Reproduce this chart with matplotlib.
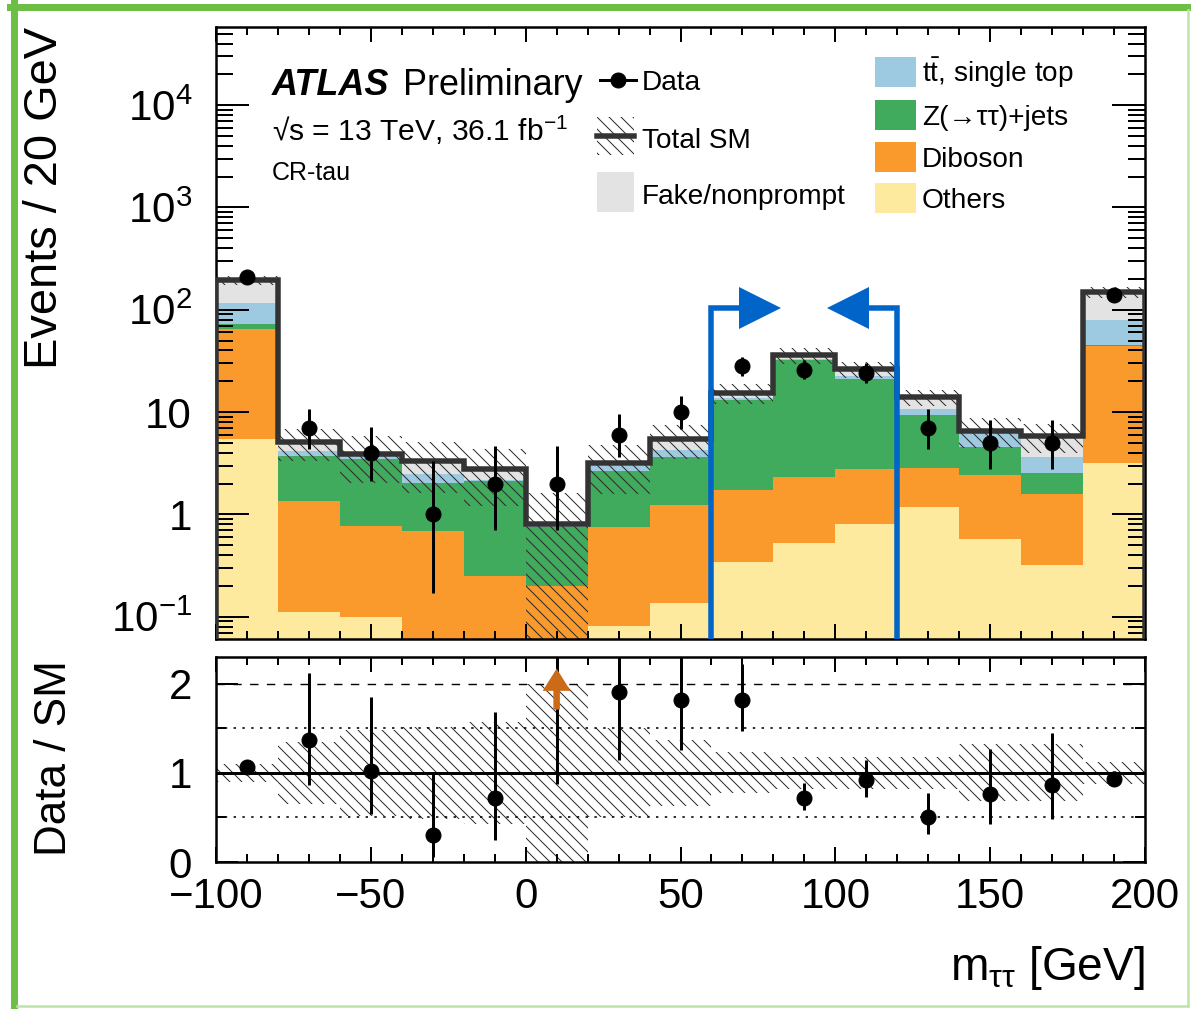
import matplotlib
matplotlib.use("Agg")
import matplotlib.pyplot as plt
import numpy as np
from matplotlib.patches import Rectangle
from matplotlib.lines import Line2D
from matplotlib.ticker import LogLocator, FixedLocator, MultipleLocator, FuncFormatter, NullFormatter

plt.rcParams['font.family'] = ['Liberation Sans', 'DejaVu Sans']
plt.rcParams['mathtext.fontset'] = 'custom'
plt.rcParams['mathtext.rm'] = 'Liberation Sans'
plt.rcParams['mathtext.it'] = 'Liberation Sans:italic'
plt.rcParams['mathtext.bf'] = 'Liberation Sans:bold'
plt.rcParams['hatch.linewidth'] = 1.0

# --- data (events per 20 GeV bin) ---
bin_edges = [-100, -80, -60, -40, -20, 0, 20, 40, 60, 80, 100, 120, 140, 160, 180, 200]
others  = [5.5, 0.11, 0.10, 0.03, 0.03, 0.03, 0.081, 0.135, 0.345, 0.52, 0.80, 1.19, 0.57, 0.32, 3.15]
diboson = [59.5, 1.23, 0.67, 0.66, 0.22, 0.17, 0.67, 1.10, 1.39, 1.81, 1.97, 1.67, 1.85, 1.26, 41.2]
ztautau = [8.0, 2.34, 2.67, 1.35, 1.85, 0.56, 1.88, 2.37, 11.3, 29.7, 18.4, 6.44, 2.16, 0.93, 1.3]
ttbar   = [44.0, 0.52, 0.24, 0.42, 0.05, 0.01, 0.37, 0.64, 0.8, 1.0, 1.3, 1.3, 1.72, 1.14, 33.1]
fake    = [78.0, 0.9, 0.22, 0.89, 0.65, 0.03, 0.15, 1.26, 1.6, 3.0, 3.7, 3.4, 0.3, 2.15, 69.3]
sm_rel_unc = [0.10, 0.35, 0.48, 0.52, 0.57, 1.0, 0.50, 0.37, 0.23, 0.18, 0.18, 0.18, 0.32, 0.32, 0.12]

data        = [208, 7, 4, 1, 2, 2, 6, 10, 28, 26, 24, 7, 5, 5, 138]
data_err_lo = [14.4, 2.6, 1.9, 0.83, 1.3, 1.3, 2.4, 3.1, 5.3, 5.1, 4.9, 2.6, 2.2, 2.2, 11.7]
data_err_hi = [15.4, 3.8, 3.2, 2.3, 2.7, 2.7, 3.6, 4.3, 6.3, 6.1, 5.9, 3.8, 3.4, 3.4, 12.8]

sr_lo, sr_hi, sr_arrow_y = 60, 120, 105   # signal region window

colors = ['#feea9e', '#fa992c', '#41ab5d', '#9ecae1', '#e3e3e3']   # others, diboson, Z, top, fake
line_col = '#333333'
sr_col = '#0064c8'
hatch = '\\\\'
hatch_col = '#2a2a2a'

edges = np.array(bin_edges, dtype=float)
centers = 0.5 * (edges[:-1] + edges[1:])
components = [np.array(v) for v in (others, diboson, ztautau, ttbar, fake)]
total = np.sum(components, axis=0)
rel = np.array(sm_rel_unc)
data = np.array(data, dtype=float)
elo = np.array(data_err_lo)
ehi = np.array(data_err_hi)

# --- figure (dpi 72 so 1 pt = 1 px) ---
W, H = 1191, 1009
fig = plt.figure(figsize=(W / 72, H / 72), dpi=72)
AX_L, AX_R = 216, 1145
ax = fig.add_axes([AX_L / W, 1 - 639 / H, (AX_R - AX_L) / W, (639 - 27) / H])
ax2 = fig.add_axes([AX_L / W, 1 - 862 / H, (AX_R - AX_L) / W, (862 - 657) / H], sharex=ax)

ax.set_yscale('log')
ymin, ymax = 0.0605, 5.8e4
ax.set_ylim(ymin, ymax)
ax.set_xlim(edges[0], edges[-1])

# stacked backgrounds
base = np.full(len(centers), 1e-4)
cum = np.zeros(len(centers))
for vals, col in zip(components, colors):
    cum = cum + vals
    ax.stairs(cum, edges, baseline=base, fill=True, color=col, lw=0, zorder=1)
    base = cum.copy()

# uncertainty band + total
ax.stairs(total * (1 + rel), edges, baseline=np.maximum(total * (1 - rel), 1e-4), fill=True,
          facecolor='none', edgecolor=hatch_col, lw=0, hatch=hatch, zorder=2)
ax.stairs(total, edges, baseline=1e-4, color=line_col, lw=5.5, zorder=3)

# signal-region markers
ax.plot([sr_lo, sr_lo, sr_lo + 9.5], [ymin * 0.5, sr_arrow_y, sr_arrow_y], color=sr_col, lw=5.5,
        solid_joinstyle='miter', zorder=4)
ax.plot([sr_hi, sr_hi, sr_hi - 9.5], [ymin * 0.5, sr_arrow_y, sr_arrow_y], color=sr_col, lw=5.5,
        solid_joinstyle='miter', zorder=4)
ax.plot([sr_lo + 15.8], [sr_arrow_y], marker='>', ms=42, color=sr_col, mew=0, zorder=4)
ax.plot([sr_hi - 15.8], [sr_arrow_y], marker='<', ms=42, color=sr_col, mew=0, zorder=4)

ax.errorbar(centers, data, yerr=[elo, ehi], fmt='o', color='black', ms=15, elinewidth=3,
            capsize=0, zorder=5)

# --- ratio panel ---
ratio = data / total
ax2.set_ylim(0, 2.3)
ax2.stairs(1 + rel, edges, baseline=1 - rel, fill=True, facecolor='none', edgecolor=hatch_col,
           lw=0, hatch=hatch, zorder=1)
ax2.axhline(1, color='black', lw=3, zorder=2)
ax2.axhline(2, color='black', lw=1.4, ls=(0, (6, 6)), zorder=2)
ax2.axhline(1.5, color='black', lw=1.6, ls=(0, (1.5, 4)), zorder=2)
ax2.axhline(0.5, color='black', lw=1.6, ls=(0, (1.5, 4)), zorder=2)
ax2.errorbar(centers, ratio, yerr=[elo / total, ehi / total], fmt='o', color='black', ms=15,
             elinewidth=3, capsize=0, zorder=5)
for xc in centers[ratio > 2.3]:
    ax2.arrow(xc, 1.71, 0, 0.46, width=2.1, head_width=9, head_length=0.25,
              length_includes_head=True, color='#cc6b17', lw=0, zorder=6)

# --- axes styling ---
for a in (ax, ax2):
    for s in a.spines.values():
        s.set_linewidth(2.5)
    a.xaxis.set_major_locator(MultipleLocator(50))
    a.xaxis.set_minor_locator(MultipleLocator(10))
    a.tick_params(which='both', direction='in', top=True, right=True, width=2, labelsize=42)
    a.tick_params(axis='x', which='major', length=15)
    a.tick_params(axis='x', which='minor', length=8)

plt.setp(ax.get_xticklabels(), visible=False)
ax.yaxis.set_major_locator(LogLocator(base=10, numticks=20))
ax.yaxis.set_minor_locator(LogLocator(base=10, subs=np.arange(2, 10), numticks=100))
ax.yaxis.set_minor_formatter(NullFormatter())


def log_label(v, pos):
    e = int(round(np.log10(v)))
    if e == 0:
        return '1'
    if e == 1:
        return '10'
    exp = '\u2212%d' % -e if e < 0 else '%d' % e
    return '10$^{\\mathregular{%s}}$' % exp


ax.yaxis.set_major_formatter(FuncFormatter(log_label))
ax.tick_params(axis='y', which='major', length=33, pad=24)
ax.tick_params(axis='y', which='minor', length=17)

ax2.yaxis.set_major_locator(FixedLocator([0, 1, 2]))
ax2.yaxis.set_minor_locator(MultipleLocator(0.5))
ax2.tick_params(axis='y', which='major', length=22, pad=24)
ax2.tick_params(axis='y', which='minor', length=10)
ax2.tick_params(axis='x', pad=15)

fig.text(45 / W, 1 - 27 / H, 'Events / 20 GeV', rotation=90, ha='center', va='top', fontsize=47)
fig.text(55 / W, 1 - 758 / H, 'Data / SM', rotation=90, ha='center', va='center', fontsize=44)
fig.text(1145 / W, 1 - 980 / H, 'm$_{\\mathregular{\u03c4\u03c4}}$ [GeV]', ha='right', va='baseline',
         fontsize=46)


# --- labels & legend (positions in reference pixels) ---
def px(x, y):
    return ((x - AX_L) / (AX_R - AX_L), (639 - y) / (639 - 27))


tr = ax.transAxes
ax.text(*px(272, 95), 'ATLAS', fontsize=36, fontweight='bold', style='italic', transform=tr)
ax.text(*px(403, 95), 'Preliminary', fontsize=36, transform=tr)
ax.text(*px(272, 141), '\u221as = 13 TeV, 36.1 fb$^{\\mathregular{\u22121}}$',
        fontsize=30, transform=tr)
ax.text(*px(272, 180), 'CR-tau', fontsize=25, transform=tr)

# left legend column
x0, y0 = px(600, 80)
x1, _ = px(636, 80)
ax.add_line(Line2D([x0, x1], [y0, y0], color='black', lw=3, transform=tr))
ax.plot([px(618, 80)[0]], [y0], marker='o', ms=15, color='black', transform=tr)
ax.text(*px(642, 90), 'Data', fontsize=28, transform=tr)

bx, by = px(597, 155)
bw = 37 / (AX_R - AX_L)
ax.add_patch(Rectangle((bx, by), bw, 38 / 612, facecolor='none', edgecolor=hatch_col, lw=0,
                       hatch=hatch, transform=tr))
yl = px(0, 136)[1]
ax.add_line(Line2D([bx, bx + bw], [yl, yl], color=line_col, lw=5.5, transform=tr))
ax.text(*px(642, 148), 'Total SM', fontsize=28, transform=tr)

bx, by = px(597, 212)
ax.add_patch(Rectangle((bx, by), bw, 40 / 612, facecolor=colors[4], lw=0, transform=tr))
ax.text(*px(642, 204), 'Fake/nonprompt', fontsize=28, transform=tr)

# right legend column
right_entries = [('$\\mathregular{t\\bar{t}}$, single top', colors[3], 57),
                 ('Z(\u2192\u03c4\u03c4)+jets', colors[2], 100),
                 ('Diboson', colors[1], 142),
                 ('Others', colors[0], 183)]
for text, col, ytop in right_entries:
    bx, by = px(875, ytop + 30)
    ax.add_patch(Rectangle((bx, by), 41 / (AX_R - AX_L), 30 / 612, facecolor=col, lw=0,
                           transform=tr))
    ax.text(*px(922, ytop + 25), text, fontsize=28, transform=tr)

# green frame
thick, thin = '#6cbf44', '#c0e3a9'
fig.add_artist(Line2D([13.5 / W, 13.5 / W], [0, 1 - 3 / H], color=thick, lw=7))
fig.add_artist(Line2D([10 / W, 1], [1 - 7 / H, 1 - 7 / H], color=thick, lw=7))
fig.add_artist(Line2D([1188 / W, 1188 / W], [1 - 1006 / H, 1 - 10 / H], color=thin, lw=2.5))
fig.add_artist(Line2D([17 / W, 1188 / W], [1 - 1006 / H, 1 - 1006 / H], color=thin, lw=2.5))

fig.savefig('out.png', dpi=72)
